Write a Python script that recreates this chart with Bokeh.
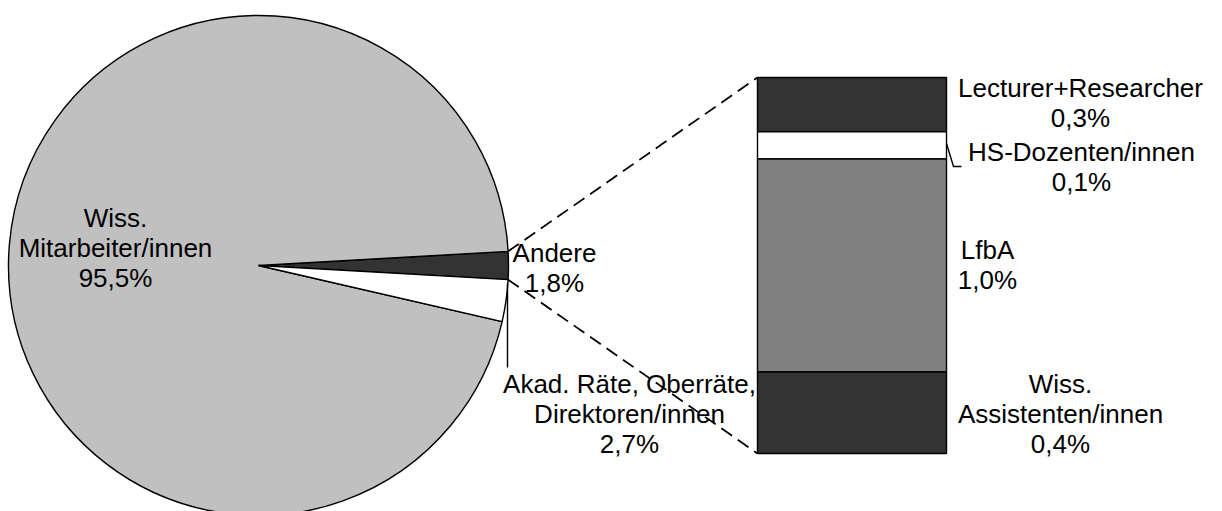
import math
from bokeh.plotting import figure
from bokeh.models import Range1d
from bokeh.core.properties import value
from bokeh.embed import file_html
from bokeh.resources import INLINE

# ---- data ----
pie_labels = ["Andere", "Wiss. Mitarbeiter/innen", "Akad. Räte, Oberräte, Direktoren/innen"]
pie_values = [1.8, 95.5, 2.7]
pie_colors = ["#333333", "#C0C0C0", "#FFFFFF"]

bar_labels = ["Lecturer+Researcher", "HS-Dozenten/innen", "LfbA", "Wiss. Assistenten/innen"]
bar_values = [0.26, 0.13, 1.02, 0.39]
bar_colors = ["#333333", "#FFFFFF", "#808080", "#333333"]

def pct(v):
    return f"{v:.1f}".replace(".", ",") + "%"

W, H = 1222, 511
p = figure(width=W, height=H, output_backend="svg", toolbar_location=None,
           x_range=Range1d(0, W), y_range=Range1d(0, H), min_border=0)
p.axis.visible = False
p.grid.visible = False
p.outline_line_color = None
p.background_fill_color = "white"

FONT = value("Liberation Sans")
FS = "26px"
LH = 1.0

# ---- pie ----
cx, cy, R = 258, 246, 250
total = sum(pie_values)
start = -math.pi * pie_values[0] / total
starts, ends = [], []
a = start
for v in pie_values:
    starts.append(a)
    a += 2 * math.pi * v / total
    ends.append(a)
p.wedge(x=[cx] * 3, y=[cy] * 3, radius=R, start_angle=starts, end_angle=ends,
        fill_color=pie_colors, line_color="black", line_width=1.4)

# ---- bar ----
bx0, bx1, btop, bbot = 757, 946, 434, 58
bsum = sum(bar_values)
tops, bottoms = [], []
t = btop
for v in bar_values:
    h = (btop - bbot) * v / bsum
    tops.append(t)
    bottoms.append(t - h)
    t -= h
p.quad(left=[bx0] * 4, right=[bx1] * 4, top=tops, bottom=bottoms,
       fill_color=bar_colors, line_color="black", line_width=1.4)

# ---- connector lines ----
ux, uy = cx + R * math.cos(ends[0]), cy + R * math.sin(ends[0])
lx, ly = cx + R * math.cos(starts[0]), cy + R * math.sin(starts[0])
p.line([ux, bx0], [uy, btop], line_color="black", line_dash="13 7", line_width=1.8)
p.line([lx, bx0], [ly, bbot], line_color="black", line_dash="13 7", line_width=1.8)

# leader lines
p.line([507, 507], [228, 144], line_color="black", line_width=1.4)
p.line([946, 953, 961], [368, 345, 345], line_color="black", line_width=1.4)

# ---- labels ----
pie_texts = ["Wiss.\nMitarbeiter/innen\n" + pct(pie_values[1]),
             "Andere\n" + pct(pie_values[0]),
             "Akad. Räte, Oberräte,\nDirektoren/innen\n" + pct(pie_values[2])]
p.text(x=[115, 554, 629], y=[264, 244, 98], text=pie_texts,
       text_align="center", text_baseline="middle",
       text_font=FONT, text_font_size=FS, text_color="black", text_line_height=LH)

bar_texts = ["Lecturer+Researcher\n" + pct(bar_values[0]),
             "HS-Dozenten/innen\n" + pct(bar_values[1]),
             "LfbA\n" + pct(bar_values[2]),
             "Wiss.\nAssistenten/innen\n" + pct(bar_values[3])]
p.text(x=[1080, 1081, 987, 1060], y=[409, 345, 247, 98], text=bar_texts,
       text_align="center", text_baseline="middle",
       text_font=FONT, text_font_size=FS, text_color="black", text_line_height=LH)

open("out.html", "w").write(file_html(p, INLINE))
